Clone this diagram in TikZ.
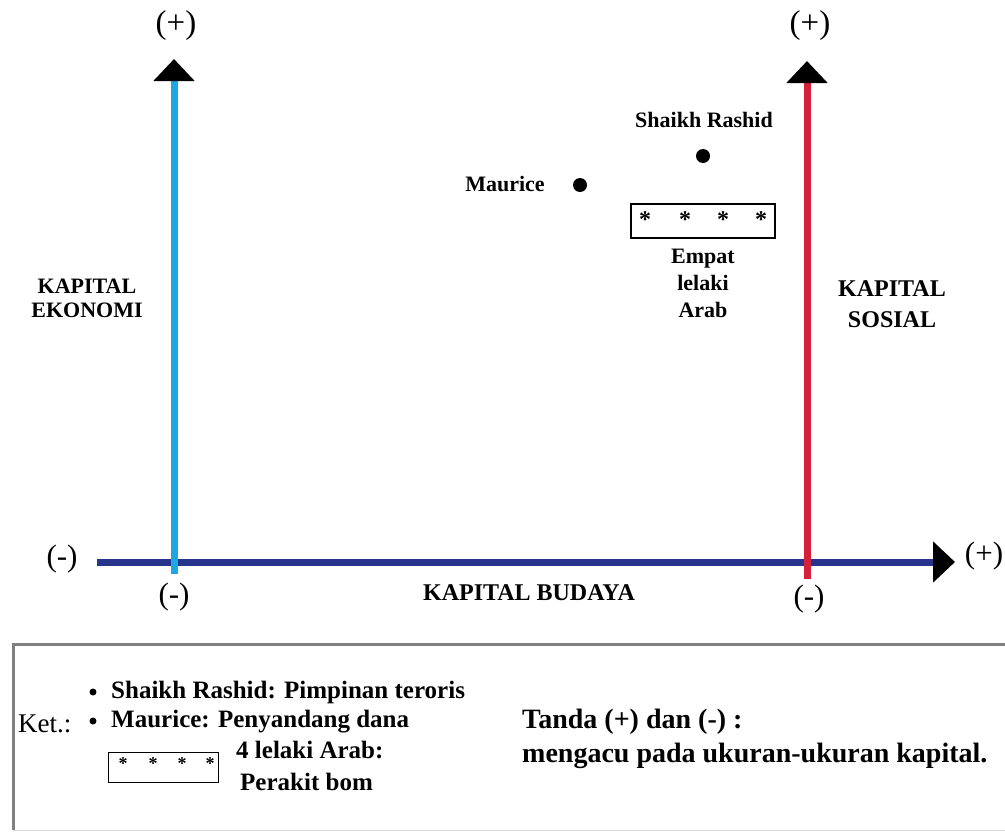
\documentclass[tikz,border=0pt]{standalone}
\usepackage{fontspec}
\setmainfont{Liberation Serif}
\usetikzlibrary{arrows.meta}
\definecolor{ekoblue}{RGB}{28,168,226}
\definecolor{sosred}{RGB}{212,32,58}
\definecolor{budnavy}{RGB}{38,52,140}
\definecolor{boxgray}{RGB}{128,128,128}
\tikzset{
  axisline/.style={line width=7pt},
  tipblack/.style={-{Triangle[length=22pt,width=40pt,color=black,fill=black]}},
  sign/.style={font=\fontsize{31}{33}\selectfont, inner sep=0pt},
  bigsign/.style={font=\fontsize{33}{35}\selectfont, inner sep=0pt},
  axlabel/.style={font=\bfseries\fontsize{22}{24}\selectfont, align=center, inner sep=0pt},
  person/.style={font=\bfseries\fontsize{22}{24}\selectfont, inner sep=0pt},
  dotnode/.style={circle, fill=black, inner sep=0pt, minimum size=14pt},
  starbox/.style={draw=black, line width=1.2pt, inner sep=0pt},
  star/.style={font=\bfseries\fontsize{24}{24}\selectfont, inner sep=0pt, anchor=base},
  smallstar/.style={font=\bfseries\fontsize{18}{18}\selectfont, inner sep=0pt, anchor=base},
  legtext/.style={font=\bfseries\fontsize{25}{27}\selectfont, inner sep=0pt, anchor=base west},
  legright/.style={font=\bfseries\fontsize{28}{27}\selectfont, inner sep=0pt, anchor=base west},
  bullet/.style={circle, fill=black, inner sep=0pt, minimum size=7pt},
}
\begin{document}
\begin{tikzpicture}[x=1pt,y=-1pt]
\useasboundingbox (0,0) rectangle (1005,833);
% axes
\coordinate (hx0) at (97,562);
\coordinate (hx1) at (955,562);
\coordinate (bx0) at (174,574);
\coordinate (bx1) at (174,59);
\coordinate (rx0) at (807,579);
\coordinate (rx1) at (807,61);
\draw[axisline, budnavy, tipblack] (hx0) -- (hx1);
\draw[axisline, ekoblue, tipblack] (bx0) -- (bx1);
\draw[axisline, sosred, tipblack] (rx0) -- (rx1);
% signs
\node[bigsign] (bplus) at (176,26) {(+)};
\node[bigsign] (rplus) at (810,26) {(+)};
\node[sign] (hminus) at (62,559) {(-)};
\node[sign] (hplus) at (984,556) {(+)};
\node[sign] (bminus) at (174,597) {(-)};
\node[sign] (rminus) at (809,599) {(-)};
% axis labels
\node[axlabel, font=\bfseries\fontsize{24}{26}\selectfont] (kb) at (529,593) {KAPITAL BUDAYA};
\node[axlabel] (ke) at (87,298) {KAPITAL\\EKONOMI};
\node[axlabel, font=\bfseries\fontsize{24}{31}\selectfont] (ks) at (892,304) {KAPITAL\\SOSIAL};
% persons
\node[person] (srlabel) at (704,120) {Shaikh Rashid};
\node[dotnode] (sr) at (703,156) {};
\node[person] (maulabel) at (505,184) {Maurice};
\node[dotnode] (mau) at (580,185) {};
\node[starbox, minimum width=144pt, minimum height=34pt] (arab) at (703,221) {};
\node[star] (s1) at (645,227) {*};
\node[star] (s2) at (685,227) {*};
\node[star] (s3) at (723,227) {*};
\node[star] (s4) at (761,227) {*};
\node[axlabel, font=\bfseries\fontsize{22}{27}\selectfont] (arablabel) at (703,283) {Empat\\lelaki\\Arab};
% legend box
\coordinate (lgtl) at (13,644);
\coordinate (lgtr) at (1005,644);
\coordinate (lgbl) at (13,830);
\coordinate (lgbr) at (1005,830);
\draw[boxgray, line width=3pt] (lgtr) -- (lgtl) -- (lgbl);
\draw[boxgray!30, line width=1pt] (lgbl) -- (lgbr);
\node[font=\fontsize{27}{27}\selectfont, inner sep=0pt, anchor=base west] (ket) at (18,732) {Ket.:};
\node[bullet] (b1) at (93,692) {};
\node[bullet] (b2) at (93,721) {};
\node[legtext] (l1) at (111,698) {Shaikh Rashid: Pimpinan teroris};
\node[legtext] (l2) at (111,727) {Maurice: Penyandang dana};
\node[starbox, line width=1pt, minimum width=110pt, minimum height=30pt] (smallbox) at (163,767) {};
\node[smallstar] (t1) at (123,769) {*};
\node[smallstar] (t2) at (153,769) {*};
\node[smallstar] (t3) at (182,769) {*};
\node[smallstar] (t4) at (210,769) {*};
\node[legtext] (l3) at (236,758) {4 lelaki Arab:};
\node[legtext] (l4) at (240,790) {Perakit bom};
\node[legright] (r1) at (522,728) {Tanda (+) dan (-) :};
\node[legright] (r2) at (522,762) {mengacu pada ukuran-ukuran kapital.};
\end{tikzpicture}
\end{document}
